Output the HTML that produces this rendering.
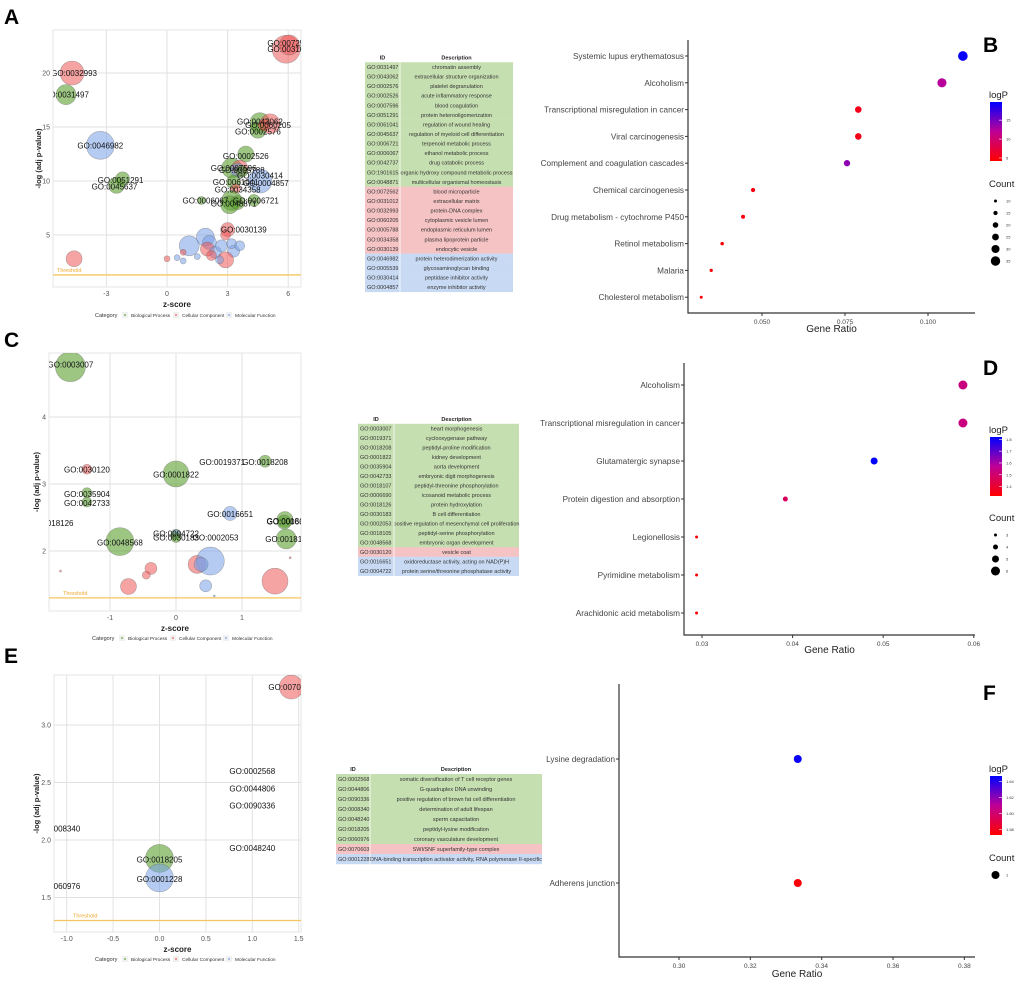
<!DOCTYPE html>
<html><head><meta charset="utf-8">
<style>
html,body{margin:0;padding:0;background:#fff;}
svg{display:block;font-family:"Liberation Sans",sans-serif;}
</style></head>
<body>
<svg id="fig" width="1020" height="983" viewBox="0 0 1020 983" xmlns="http://www.w3.org/2000/svg">
<defs>
<clipPath id="clipA"><rect x="53" y="30" width="248" height="257"/></clipPath>
<clipPath id="clipC"><rect x="49" y="353" width="252" height="258"/></clipPath>
<clipPath id="clipE"><rect x="54" y="675" width="247" height="257"/></clipPath>
<linearGradient id="gradLogP" x1="0" y1="1" x2="0" y2="0"><stop offset="0" stop-color="#ff0000"/><stop offset="0.5" stop-color="#be0096"/><stop offset="1" stop-color="#0000ff"/></linearGradient>
</defs>
<text x="4" y="24" font-size="21" font-weight="bold">A</text>
<text x="983" y="52" font-size="21" font-weight="bold">B</text>
<text x="4" y="347" font-size="21" font-weight="bold">C</text>
<text x="983" y="375" font-size="21" font-weight="bold">D</text>
<text x="4" y="663" font-size="21" font-weight="bold">E</text>
<text x="983" y="700" font-size="21" font-weight="bold">F</text>
</svg>
<script>
// ---------- Panel A data ----------
const aZ = [5.9,6.05,-4.7,-5.0,-3.3,-2.2,-2.5,-4.6,4.6,5.1,4.5,4.8,3.9,3.2,3.6,3.5,3.7,4.6,3.3,3.4,1.7,3.2,3.1,4.3,3.5,3.0,1.1,1.9,2.1,2.0,2.4,3.3,2.9,2.7,3.2,2.2,2.6,1.5,0.5,0.8,0.0,0.8,2.9,3.6];
const aY = [22.2,22.6,20,18,13.3,10.2,9.6,2.8,15.4,15.3,14.7,15.2,12.5,11.2,11.2,11.0,10.9,10.0,9.9,9.3,8.2,8.2,7.8,8.2,8.0,5.5,4.0,4.8,4.3,3.7,3.4,3.5,2.7,4.0,4.2,3.1,2.7,3.0,2.9,2.6,2.8,3.4,5.0,4.0];
const aR = [14,10,12,10,14,7,8,8,10,10,8,6,8,10,8,7,6,12,7,5,4,10,9,6,7,7,10,9,7,7,6,6,8,6,5,5,4,3,3,3,3,3,5,5];
const aCat = ['CC','CC','CC','BP','MF','BP','BP','CC','BP','CC','BP','CC','BP','BP','CC','MF','BP','MF','BP','CC','BP','BP','BP','BP','BP','CC','MF','MF','MF','CC','MF','MF','CC','MF','MF','CC','MF','MF','MF','MF','CC','CC','CC','MF'];
const aLabels = ['GO:0072562','GO:0031012','GO:0032993','GO:0031497','GO:0046982','GO:0051291','GO:0045637','GO:0043062','GO:0060205','GO:0002576','GO:0002526','GO:0007596','GO:0005788','GO:0030414','GO:0004857','GO:0061041','GO:0034358','GO:0006067','GO:0006721','GO:0048871','GO:0030139'];
const aLabelZ = [6.1,6.1,-4.6,-5.0,-3.3,-2.3,-2.6,4.6,5.0,4.5,3.9,3.3,3.7,4.6,4.9,3.4,3.5,1.9,4.4,3.3,3.8];
const aLabelY = [22.8,22.2,20,18,13.3,10.1,9.5,15.5,15.2,14.6,12.3,11.2,11.0,10.5,9.8,9.9,9.2,8.2,8.2,7.9,5.5];
const aXTicks = [-3,0,3,6];
const aYTicks = [5,10,15,20];
// ---------- Panel C data ----------
const cZ = [-1.6,-1.35,-1.35,-1.35,-0.85,0,1.35,0.82,0,0,0,1.65,1.64,1.67,0.32,0.52,0.38,-0.38,-0.45,-0.72,0.45,1.5,-1.75,1.73,0.58];
const cY = [4.75,3.22,2.87,2.73,2.14,3.15,3.34,2.56,2.25,2.26,2.2,2.47,2.43,2.18,1.8,1.85,1.8,1.74,1.64,1.47,1.48,1.55,1.7,1.9,1.33];
const cR = [15,5,5,5,14,13,6,7,5,4,5,8,7,10,9,14,7,6,4,8,6,13,1,1,1];
const cCat = ['BP','CC','BP','BP','BP','BP','BP','MF','BP','MF','BP','BP','BP','BP','CC','MF','MF','CC','CC','CC','MF','CC','CC','CC','MF'];
const cLabels = ['GO:0003007','GO:0030120','GO:0035904','GO:0042733','GO:0018126','GO:0048568','GO:0001822','GO:0019371','GO:0018208','GO:0016651','GO:0004722','GO:0030183','GO:0002053','GO:0018107','GO:0006690','GO:0018105'];
const cLabelZ = [-1.6,-1.35,-1.35,-1.35,-1.9,-0.85,0,0.7,1.35,0.82,0,0,0.6,1.72,1.72,1.7];
const cLabelY = [4.78,3.22,2.85,2.72,2.42,2.13,3.14,3.33,3.33,2.55,2.26,2.2,2.2,2.45,2.44,2.18];
const cXTicks = [-1,0,1];
const cYTicks = [2,3,4];
// ---------- Panel E data ----------
const eZ = [1.42,0,0];
const eY = [3.33,1.84,1.67];
const eR = [12,14,14];
const eCat = ['CC','BP','MF'];
const eLabels = ['GO:0070603','GO:0018205','GO:0001228','GO:0002568','GO:0044806','GO:0090336','GO:0048240','GO:0008340','GO:0060976'];
const eLabelZ = [1.42,0,0,1.0,1.0,1.0,1.0,-1.1,-1.1];
const eLabelY = [3.33,1.83,1.66,2.6,2.45,2.3,1.93,2.1,1.6];
const eXTicks = [-1.0,-0.5,0.0,0.5,1.0,1.5];
const eXTickLabels = ['-1.0','-0.5','0.0','0.5','1.0','1.5'];
const eYTicks = [1.5,2.0,2.5,3.0];
const eYTickLabels = ['1.5','2.0','2.5','3.0'];
// ---------- Panel B data ----------
const bTerms = ['Systemic lupus erythematosus','Alcoholism','Transcriptional misregulation in cancer','Viral carcinogenesis','Complement and coagulation cascades','Chemical carcinogenesis','Drug metabolism - cytochrome P450','Retinol metabolism','Malaria','Cholesterol metabolism'];
const bRatio = [0.1105,0.1042,0.079,0.079,0.0756,0.0473,0.0443,0.038,0.0347,0.0317];
const bLogP = [19.5,12.3,5.5,5.5,14,5,5,4.6,4.5,4.4];
const bCount = [36,34,24,24,23,15,14,12,11,10];
const bXTicks = [0.05,0.075,0.1];
const bXTickLabels = ['0.050','0.075','0.100'];
const bColorTicks = [5,10,15];
const bCountTicks = [10,15,20,25,30,35];
// ---------- Panel D data ----------
const dTerms = ['Alcoholism','Transcriptional misregulation in cancer','Glutamatergic synapse','Protein digestion and absorption','Legionellosis','Pyrimidine metabolism','Arachidonic acid metabolism'];
const dRatio = [0.0588,0.0588,0.049,0.0392,0.0294,0.0294,0.0294];
const dLogP = [1.53,1.53,1.82,1.47,1.33,1.33,1.33];
const dCount = [6,6,5,4,3,3,3];
const dXTicks = [0.03,0.04,0.05,0.06];
const dXTickLabels = ['0.03','0.04','0.05','0.06'];
const dColorTicks = [1.4,1.5,1.6,1.7,1.8];
const dCountTicks = [3,4,5,6];
// ---------- Panel F data ----------
const fTerms = ['Lysine degradation','Adherens junction'];
const fRatio = [0.3333,0.3333];
const fLogP = [1.645,1.575];
const fCount = [1,1];
const fXTicks = [0.30,0.32,0.34,0.36,0.38];
const fXTickLabels = ['0.30','0.32','0.34','0.36','0.38'];
const fColorTicks = [1.58,1.60,1.62,1.64];
const fColorTickLabels = ['1.58','1.60','1.62','1.64'];
const fCountTicks = [1];
// ---------- Tables ----------
const tA_ids = ['GO:0031497','GO:0043062','GO:0002576','GO:0002526','GO:0007596','GO:0051291','GO:0061041','GO:0045637','GO:0006721','GO:0006067','GO:0042737','GO:1901615','GO:0048871','GO:0072562','GO:0031012','GO:0032993','GO:0060205','GO:0005788','GO:0034358','GO:0030139','GO:0046982','GO:0005539','GO:0030414','GO:0004857'];
const tA_desc = ['chromatin assembly','extracellular structure organization','platelet degranulation','acute inflammatory response','blood coagulation','protein heterooligomerization','regulation of wound healing','regulation of myeloid cell differentiation','terpenoid metabolic process','ethanol metabolic process','drug catabolic process','organic hydroxy compound metabolic process','multicellular organismal homeostasis','blood microparticle','extracellular matrix','protein-DNA complex','cytoplasmic vesicle lumen','endoplasmic reticulum lumen','plasma lipoprotein particle','endocytic vesicle','protein heterodimerization activity','glycosaminoglycan binding','peptidase inhibitor activity','enzyme inhibitor activity'];
const tA_cat = ['BP','BP','BP','BP','BP','BP','BP','BP','BP','BP','BP','BP','BP','CC','CC','CC','CC','CC','CC','CC','MF','MF','MF','MF'];
const tC_ids = ['GO:0003007','GO:0019371','GO:0018208','GO:0001822','GO:0035904','GO:0042733','GO:0018107','GO:0006690','GO:0018126','GO:0030183','GO:0002053','GO:0018105','GO:0048568','GO:0030120','GO:0016651','GO:0004722'];
const tC_desc = ['heart morphogenesis','cyclooxygenase pathway','peptidyl-proline modification','kidney development','aorta development','embryonic digit morphogenesis','peptidyl-threonine phosphorylation','icosanoid metabolic process','protein hydroxylation','B cell differentiation','positive regulation of mesenchymal cell proliferation','peptidyl-serine phosphorylation','embryonic organ development','vesicle coat','oxidoreductase activity, acting on NAD(P)H','protein serine/threonine phosphatase activity'];
const tC_cat = ['BP','BP','BP','BP','BP','BP','BP','BP','BP','BP','BP','BP','BP','CC','MF','MF'];
const tE_ids = ['GO:0002568','GO:0044806','GO:0090336','GO:0008340','GO:0048240','GO:0018205','GO:0060976','GO:0070603','GO:0001228'];
const tE_desc = ['somatic diversification of T cell receptor genes','G-quadruplex DNA unwinding','positive regulation of brown fat cell differentiation','determination of adult lifespan','sperm capacitation','peptidyl-lysine modification','coronary vasculature development','SWI/SNF superfamily-type complex','DNA-binding transcription activator activity, RNA polymerase II-specific'];
const tE_cat = ['BP','BP','BP','BP','BP','BP','BP','CC','MF'];

const NS = 'http://www.w3.org/2000/svg';
const svg = document.getElementById('fig');
function mk(tag, attrs, parent) {
  const el = document.createElementNS(NS, tag);
  for (const k in attrs) el.setAttribute(k, attrs[k]);
  (parent || svg).appendChild(el);
  return el;
}
function txt(s, attrs, parent) { const t = mk('text', attrs, parent); t.textContent = s; return t; }

const catFill = {BP:'rgba(92,160,48,0.6)', CC:'rgba(238,88,88,0.55)', MF:'rgba(120,160,232,0.55)'};
const catDot = {BP:'#5ca030', CC:'#ee5858', MF:'#78a0e8'};
const tableFill = {BP:'#c6dfb1', CC:'#f5c3c3', MF:'#c8daf3'};

function bubblePanel(p) {
  const g = mk('g', {});
  
  
  const [L, T, R, B] = p.rect;
  const frame = mk('rect', {x:L, y:T, width:R-L, height:B-T, fill:'#fff', stroke:'#e6e6e6', 'stroke-width':1}, g);
  
  
  p.xTicks.forEach((v, i) => {
    const x = p.sx(v);
    const gl = mk('line', {x1:x, x2:x, y1:T, y2:B, stroke:'#e2e2e2', 'stroke-width':1}, g);
    
    
    const tl = txt(p.xTickLabels ? p.xTickLabels[i] : String(v), {x:x, y:B+9, 'font-size':7, fill:'#555', 'text-anchor':'middle'}, g);
    
    
  });
  p.yTicks.forEach((v, i) => {
    const y = p.sy(v);
    const gl = mk('line', {x1:L, x2:R, y1:y, y2:y, stroke:'#e2e2e2', 'stroke-width':1}, g);
    
    
    const tl = txt(p.yTickLabels ? p.yTickLabels[i] : String(v), {x:L-3, y:y+2.5, 'font-size':7, fill:'#555', 'text-anchor':'end'}, g);
    
    
  });
  const th = p.sy(1.3);
  const thl = mk('line', {x1:L, x2:R, y1:th, y2:th, stroke:'#f5c660', 'stroke-width':1.3}, g);
  
  
  const tht = txt('Threshold', {x:p.thX, y:th-3, 'font-size':5.5, fill:'#f0a830'}, g);
  
  
  const cg = mk('g', {'clip-path':'url(#' + p.clip + ')'}, g);
  
  
  p.z.forEach((z, i) => {
    const c = mk('circle', {cx:p.sx(z), cy:p.sy(p.y[i]), r:p.r[i], fill:catFill[p.cat[i]], stroke:'rgba(90,90,90,0.45)', 'stroke-width':0.6}, cg);
    
    
  });
  p.labels.forEach((s, i) => {
    const t = txt(s, {x:p.sx(p.lz[i]), y:p.sy(p.ly[i])+3, 'font-size':8, fill:'#111', 'text-anchor':'middle'}, cg);
    
    
  });
  const xt = txt('z-score', {x:(L+R)/2, y:B+20, 'font-size':8, 'font-weight':'bold', fill:'#222', 'text-anchor':'middle'}, g);
  
  
  const yt = txt('-log (adj p-value)', {x:0, y:0, 'font-size':7.5, 'font-weight':'bold', fill:'#222', 'text-anchor':'middle', transform:'translate(' + p.yTitleX + ',' + ((T+B)/2) + ') rotate(-90)'}, g);
  
  
  const lg = mk('g', {}, g);
  
  
  const ly = p.legY;
  const lx = p.legX;
  const lt = txt('Category', {x:lx, y:ly+2, 'font-size':5.5, fill:'#333'}, lg);
  
  
  const entries = [['BP','Biological Process',lx+27],['CC','Cellular Component',lx+78],['MF','Molecular Function',lx+131]];
  entries.forEach(e => {
    const k = mk('rect', {x:e[2], y:ly-3, width:6, height:6, fill:'#f0f0f0'}, lg);
    
    
    const d = mk('circle', {cx:e[2]+3, cy:ly, r:0.9, fill:catDot[e[0]]}, lg);
    
    
    const et = txt(e[1], {x:e[2]+9, y:ly+2, 'font-size':4.8, fill:'#333'}, lg);
    
    
  });
}

bubblePanel({name:'bubble-chart-a', rect:[53,30,301,287], sx:z=>167+z*20.2, sy:v=>289-v*10.8, xTicks:aXTicks, yTicks:aYTicks,
  z:aZ, y:aY, r:aR, cat:aCat, labels:aLabels, lz:aLabelZ, ly:aLabelY, clip:'clipA', thX:57, yTitleX:41, legX:95, legY:315});
bubblePanel({name:'bubble-chart-c', rect:[49,353,301,611], sx:z=>176+z*66, sy:v=>685-v*67, xTicks:cXTicks, yTicks:cYTicks,
  z:cZ, y:cY, r:cR, cat:cCat, labels:cLabels, lz:cLabelZ, ly:cLabelY, clip:'clipC', thX:63, yTitleX:39, legX:92, legY:638});
bubblePanel({name:'bubble-chart-e', rect:[54,675,301,932], sx:z=>159.5+z*92.8, sy:v=>840-(v-2)*115, xTicks:eXTicks, xTickLabels:eXTickLabels, yTicks:eYTicks, yTickLabels:eYTickLabels,
  z:eZ, y:eY, r:eR, cat:eCat, labels:eLabels, lz:eLabelZ, ly:eLabelY, clip:'clipE', thX:73, yTitleX:39, legX:95, legY:959});

function table(t) {
  const g = mk('g', {});
  
  
  const h1 = txt('ID', {x:(t.x0+t.xd)/2, y:t.y0-t.pitch+2, 'font-size':5.5, 'font-weight':'bold', fill:'#222', 'text-anchor':'middle'}, g);
  
  
  const h2 = txt('Description', {x:(t.xd+t.x1)/2, y:t.y0-t.pitch+2, 'font-size':5.5, 'font-weight':'bold', fill:'#222', 'text-anchor':'middle'}, g);
  
  
  t.ids.forEach((id, i) => {
    const cy = t.y0 + i*t.pitch;
    const r = mk('rect', {x:t.x0, y:cy-t.pitch/2, width:t.x1-t.x0, height:t.pitch+0.2, fill:tableFill[t.cat[i]]}, g);
    
    
    const a = txt(id, {x:t.x0+2, y:cy+2, 'font-size':5.5, fill:'#333'}, g);
    
    
    const b = txt(t.desc[i], {x:(t.xd+t.x1)/2, y:cy+2, 'font-size':5.5, fill:'#333', 'text-anchor':'middle'}, g);
    
    
  });
  const dv = mk('line', {x1:t.xd, x2:t.xd, y1:t.y0-t.pitch/2, y2:t.y0+(t.ids.length-0.5)*t.pitch, stroke:'#fff', 'stroke-width':0.8}, g);
  
  
}
table({name:'go-table-a', ids:tA_ids, desc:tA_desc, cat:tA_cat, x0:365, xd:400, x1:513, y0:67, pitch:9.57});
table({name:'go-table-c', ids:tC_ids, desc:tC_desc, cat:tC_cat, x0:358, xd:394, x1:519, y0:428.5, pitch:9.5});
table({name:'go-table-e', ids:tE_ids, desc:tE_desc, cat:tE_cat, x0:336, xd:370, x1:542, y0:779, pitch:10});

function lerpColor(t) {
  t = Math.max(0, Math.min(1, t));
  let r, b;
  if (t < 0.5) { const u = t/0.5; r = 255 + (190-255)*u; b = 150*u; }
  else { const u = (t-0.5)/0.5; r = 190*(1-u); b = 150 + 105*u; }
  return 'rgb(' + Math.round(r) + ',0,' + Math.round(b) + ')';
}

function dotPanel(p) {
  const g = mk('g', {});
  
  
  const [L, T, R, B] = p.rect;
  const ax = mk('path', {d:'M' + L + ' ' + T + ' V' + B + ' H' + R, fill:'none', stroke:'#333', 'stroke-width':1.2}, g);
  
  
  p.terms.forEach((s, i) => {
    const y = p.rowY(i);
    const tk = mk('line', {x1:L-3, x2:L, y1:y, y2:y, stroke:'#333', 'stroke-width':1}, g);
    
    
    const lb = txt(s, {x:L-4, y:y+3, 'font-size':8.2, fill:'#444', 'text-anchor':'end'}, g);
    
    
  });
  p.xTicks.forEach((v, i) => {
    const x = p.sx(v);
    const tk = mk('line', {x1:x, x2:x, y1:B, y2:B+3, stroke:'#333', 'stroke-width':1}, g);
    
    
    const tl = txt(p.xTickLabels[i], {x:x, y:B+11, 'font-size':6.5, fill:'#444', 'text-anchor':'middle'}, g);
    
    
  });
  const xt = txt('Gene Ratio', {x:(L+R)/2, y:p.titleY, 'font-size':10, fill:'#222', 'text-anchor':'middle'}, g);
  
  
  p.ratio.forEach((v, i) => {
    const c = mk('circle', {cx:p.sx(v), cy:p.rowY(i), r:p.rs(p.count[i]), fill:lerpColor((p.logP[i]-p.cmin)/(p.cmax-p.cmin))}, g);
    
    
  });
  const lg = mk('g', {}, g);
  
  
  const lt = txt('logP', {x:989, y:p.cbTop-4, 'font-size':9.5, fill:'#222'}, lg);
  
  
  const cb = mk('rect', {x:990, y:p.cbTop, width:12, height:p.cbBot-p.cbTop, fill:'url(#gradLogP)'}, lg);
  
  
  p.cTicks.forEach((v, i) => {
    const y = p.cbBot - (v-p.cmin)/(p.cmax-p.cmin)*(p.cbBot-p.cbTop);
    const tk = mk('line', {x1:999, x2:1002, y1:y, y2:y, stroke:'#fff', 'stroke-width':0.6}, lg);
    
    
    const tl = txt(p.cTickLabels ? p.cTickLabels[i] : String(v), {x:1006, y:y+1.5, 'font-size':4, fill:'#333'}, lg);
    
    
  });
  const sg = mk('g', {}, g);
  
  
  const st = txt('Count', {x:989, y:p.countY, 'font-size':9.5, fill:'#222'}, sg);
  
  
  p.countTicks.forEach((v, i) => {
    const y = p.countY + 14 + i*12;
    const d = mk('circle', {cx:995.5, cy:y, r:p.rs(v), fill:'#000'}, sg);
    
    
    const tl = txt(String(v), {x:1006, y:y+1.5, 'font-size':4, fill:'#333'}, sg);
    
    
  });
}
dotPanel({name:'dot-plot-b', rect:[688,40,975,313], terms:bTerms, ratio:bRatio, logP:bLogP, count:bCount,
  rowY:i=>56+i*26.8, sx:v=>762+(v-0.05)*3320, xTicks:bXTicks, xTickLabels:bXTickLabels, titleY:332,
  rs:c=>1.5+(c-10)/25*3.2, cmin:4.2, cmax:19.8, cbTop:102, cbBot:161, cTicks:bColorTicks, countY:187, countTicks:bCountTicks});
dotPanel({name:'dot-plot-d', rect:[684,363,975,635], terms:dTerms, ratio:dRatio, logP:dLogP, count:dCount,
  rowY:i=>385+i*38, sx:v=>702+(v-0.03)*9060, xTicks:dXTicks, xTickLabels:dXTickLabels, titleY:653,
  rs:c=>c<=3?1.5:1.5+(c-3)*1, cmin:1.32, cmax:1.82, cbTop:437, cbBot:496, cTicks:dColorTicks, countY:521, countTicks:dCountTicks});
dotPanel({name:'dot-plot-f', rect:[619,684,975,957], terms:fTerms, ratio:fRatio, logP:fLogP, count:fCount,
  rowY:i=>759+i*124, sx:v=>679+(v-0.30)*3567, xTicks:fXTicks, xTickLabels:fXTickLabels, titleY:977,
  rs:c=>4, cmin:1.573, cmax:1.647, cbTop:776, cbBot:835, cTicks:fColorTicks, cTickLabels:fColorTickLabels, countY:861, countTicks:fCountTicks});
</script>
</body></html>
